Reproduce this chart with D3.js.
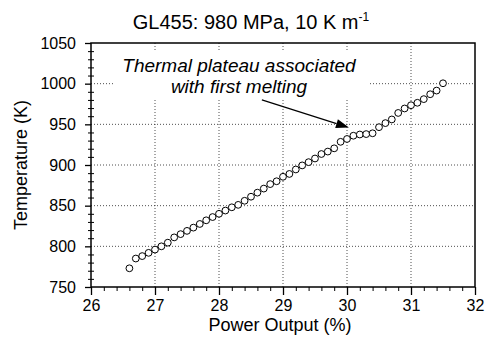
<!DOCTYPE html>
<html>
<head>
<meta charset="utf-8">
<script src="https://cdn.jsdelivr.net/npm/d3@7/dist/d3.min.js"></script>
<style>
  html, body { margin: 0; padding: 0; background: #fff; }
  svg { display: block; }
  text { font-family: "Liberation Sans", Arial, Helvetica, sans-serif; fill: #000; }
</style>
</head>
<body>
<svg id="chart" width="486" height="338"></svg>
<script>
// ---- Data ----
const powerOutput = [26.6, 26.7, 26.8, 26.9, 27.0, 27.1, 27.2, 27.3, 27.4, 27.5,
                     27.6, 27.7, 27.8, 27.9, 28.0, 28.1, 28.2, 28.3, 28.4, 28.5,
                     28.6, 28.7, 28.8, 28.9, 29.0, 29.1, 29.2, 29.3, 29.4, 29.5,
                     29.6, 29.7, 29.8, 29.9, 30.0, 30.1, 30.2, 30.3, 30.4, 30.5,
                     30.6, 30.7, 30.8, 30.9, 31.0, 31.1, 31.2, 31.3, 31.4, 31.5];
const temperature = [773, 785, 788, 792, 796, 800, 804.5, 811, 815, 819,
                     823, 827.5, 832, 836, 840, 844, 848, 851, 856, 861,
                     866, 871, 876.5, 880, 885.5, 889, 894.5, 899.5, 903.5, 908,
                     913.5, 916.5, 920.5, 928.5, 932, 936, 937.5, 938, 939, 946.5,
                     951.5, 956, 964, 969.5, 973.5, 976.5, 981, 987, 991.5, 1000.5];
const xTicks = [26, 27, 28, 29, 30, 31, 32];
const yTicks = [750, 800, 850, 900, 950, 1000, 1050];
const titleMain = "GL455: 980 MPa, 10 K m";
const titleSup = "-1";
const xLabel = "Power Output (%)";
const yLabel = "Temperature (K)";
const noteLines = ["Thermal plateau associated", "with first melting"];
const arrowFrom = [28.67, 980];   // data coords of arrow start
const arrowTo = [30.03, 946];     // data coords of arrow tip

// ---- Layout ----
const svg = d3.select("#chart");
const L = 91, R = 475, T = 43, B = 287;
const x = d3.scaleLinear().domain([26, 32]).range([L, R]);
const y = d3.scaleLinear().domain([750, 1050]).range([B, T]);

// grid
const grid = svg.append("g");
grid.selectAll("line.v").data(xTicks.slice(1, -1)).join("line")
  .attr("x1", d => x(d)).attr("x2", d => x(d)).attr("y1", T).attr("y2", B)
  .attr("stroke", "#222").attr("stroke-width", 0.8).attr("stroke-dasharray", "1,2");
grid.selectAll("line.h").data(yTicks.slice(1, -1)).join("line")
  .attr("y1", d => y(d)).attr("y2", d => y(d)).attr("x1", L).attr("x2", R)
  .attr("stroke", "#222").attr("stroke-width", 0.8).attr("stroke-dasharray", "1,2");

// white box behind annotation
svg.append("rect").attr("x", 113).attr("y", 51).attr("width", 255).attr("height", 49).attr("fill", "#fff");

// annotation
const note = svg.append("text").attr("text-anchor", "middle")
  .attr("font-style", "italic").attr("font-size", 19);
note.selectAll("tspan").data(noteLines).join("tspan")
  .attr("x", 239).attr("y", (d, i) => 72 + i * 21).text(d => d);

// arrow
const ax1 = x(arrowFrom[0]), ay1 = y(arrowFrom[1]);
const ax2 = x(arrowTo[0]), ay2 = y(arrowTo[1]);
const ang = Math.atan2(ay2 - ay1, ax2 - ax1);
const hl = 13, hw = 4.5;
const bx = ax2 - hl * Math.cos(ang), by = ay2 - hl * Math.sin(ang);
svg.append("line").attr("x1", ax1).attr("y1", ay1).attr("x2", bx).attr("y2", by)
  .attr("stroke", "#000").attr("stroke-width", 1.2);
svg.append("path")
  .attr("d", `M${ax2},${ay2}L${bx - hw * Math.sin(ang)},${by + hw * Math.cos(ang)}L${bx + hw * Math.sin(ang)},${by - hw * Math.cos(ang)}Z`)
  .attr("fill", "#000");

// frame
svg.append("rect").attr("x", L).attr("y", T).attr("width", R - L).attr("height", B - T)
  .attr("fill", "none").attr("stroke", "#000").attr("stroke-width", 1.5);

// x axis
const xAxis = svg.append("g").attr("transform", `translate(0,${B})`)
  .call(d3.axisBottom(x).tickValues(xTicks).tickSize(8).tickPadding(5).tickFormat(d3.format("d")));
xAxis.select(".domain").remove();
xAxis.selectAll(".tick line").attr("stroke-width", 1.3);
xAxis.selectAll("text").attr("font-size", 16).style("font-family", "Liberation Sans, Arial, sans-serif");
const xMinor = svg.append("g").attr("transform", `translate(0,${B})`)
  .call(d3.axisBottom(x).tickValues(d3.range(26, 32.001, 0.2).filter(v => Math.abs(v - Math.round(v)) > 0.01)).tickSize(4).tickFormat(""));
xMinor.select(".domain").remove();

// y axis
const yAxis = svg.append("g").attr("transform", `translate(${L},0)`)
  .call(d3.axisLeft(y).tickValues(yTicks).tickSize(6).tickPadding(9).tickFormat(d3.format("d")));
yAxis.select(".domain").remove();
yAxis.selectAll(".tick line").attr("stroke-width", 1.3);
yAxis.selectAll("text").attr("font-size", 16).style("font-family", "Liberation Sans, Arial, sans-serif");
const yMinor = svg.append("g").attr("transform", `translate(${L + 3},0)`)
  .call(d3.axisLeft(y).tickValues(d3.range(750, 1050.001, 10).filter(v => v % 50 !== 0)).tickSize(6).tickFormat(""));
yMinor.select(".domain").remove();

// points
svg.append("g").selectAll("circle").data(powerOutput).join("circle")
  .attr("cx", d => x(d)).attr("cy", (d, i) => y(temperature[i])).attr("r", 3.4)
  .attr("fill", "#fff").attr("stroke", "#000").attr("stroke-width", 1);

// title
const title = svg.append("text").attr("x", 251).attr("y", 29).attr("text-anchor", "middle").attr("font-size", 20);
title.append("tspan").text(titleMain);
title.append("tspan").attr("font-size", 12).attr("dy", -8).text(titleSup);

// axis labels
svg.append("text").attr("x", 280).attr("y", 331).attr("text-anchor", "middle").attr("font-size", 18).text(xLabel);
svg.append("text").attr("transform", `translate(27,${(T + B) / 2}) rotate(-90)`)
  .attr("text-anchor", "middle").attr("font-size", 18).text(yLabel);
</script>
</body>
</html>
